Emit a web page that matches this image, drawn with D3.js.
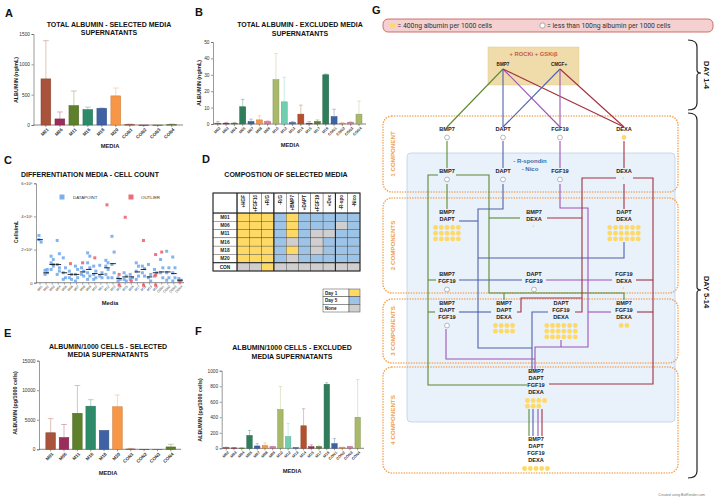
<!DOCTYPE html>
<html><head><meta charset="utf-8">
<script src="https://cdn.jsdelivr.net/npm/d3@7"></script>
<style>body{margin:0;background:#fff} svg{display:block} text{font-family:"Liberation Sans",Arial,sans-serif}</style>
</head><body><svg id="c" width="719" height="501"></svg>
<script>
// ---------------- DATA ----------------
const selCats = ["M01","M06","M11","M16","M18","M20","CON1","CON2","CON3","CON4"];
const selAlb = [760,100,320,255,275,480,5,0,0,5];
const selAlbErr = [630,115,240,40,5,130,10,0,0,10];
const selPer = [2800,2000,6100,7300,3200,7200,50,0,0,400];
const selPerErr = [2400,2200,4700,1100,0,2000,100,0,0,450];

const exclCats = ["M02","M03","M04","M05","M07","M08","M09","M10","M12","M13","M14","M15","M17","M19","CON1","CON2","CON3","CON4"];
const exclAlb = [0.5,0.5,0.5,10.5,1.5,2.5,1.5,27,13.5,1,6,0.5,1.5,30,4.5,0.5,1,6];
const exclAlbErr = [1,0.5,0.5,4.5,1.5,2.5,0.5,16,15,0.5,5.5,1,1,0.5,4.5,0.5,0.5,8];
const exclPer = [10,5,3,165,30,35,20,500,150,10,290,20,20,825,60,15,20,400];
const exclPerErr = [5,5,2,65,30,35,5,295,170,0,220,25,10,20,65,0,5,485];

const albTicks = [0,500,1000,1500];
const exclAlbTicks = [0,10,20,30,40,50];
const perTicks = [0,5000,10000,15000];
const exclPerTicks = [0,200,400,600,800,1000];

// cell counts (x10^5 cells/mL)
const cellCats = ["M01","M02","M03","M04","M05","M06","M07","M08","M09","M10","M11","M12","M13","M14","M15","M16","M17","M18","M19","M20","CON1","CON2","CON3","CON4"];
const cellMedians = [2.6,0.6,1.1,1.1,0.6,0.5,0.5,0.65,0.8,0.55,0.5,0.9,1.15,0.25,0.35,0.35,0.65,0.8,0.35,0.6,0.65,0.65,0.55,0.15];
const cellPoints = [
 [2.85,2.45,2.6],[0.75,0.8,0.5,0.6],[1.6,1.4,1.2,1.0,0.8,1.1],[2.55,1.75,1.1,0.7,0.5,0.9],
 [1.5,0.9,0.6,0.3,0.2],[0.7,0.5,0.3,0.2],[1.0,0.8,0.5,0.3,0.1],[0.9,0.7,0.5,0.4],
 [1.8,1.6,1.2,0.9,0.6,0.4,0.2],[1.0,0.7,0.5,0.3,0.2],[1.05,0.6,0.4,0.3],[1.35,1.2,1.0,0.8,0.5,0.3],
 [2.8,1.85,1.1,0.6,0.3],[0.3,0.2,0.1],[0.6,0.4,0.2,0.1],[0.5,0.3,0.2],
 [1.2,1.0,0.7,0.4,0.2],[1.0,0.85,0.6,0.4],[1.1,0.5,0.3,0.1],[0.8,0.6,0.4],
 [1.4,0.9,0.6,0.3],[1.9,0.9,0.6,0.3,0.15],[1.55,0.9,0.6,0.3,0.1],[0.25,0.15,0.1]
];
const cellOutliers = [[],[],[],[],[],[1.15],[],[1.2],[],[1.5],[],[4.7],[],[0.5,-0.15],[3.95],[0.1],[],[2.55,-0.15],[],[1.7,0.45,-0.15],[1.85],[],[],[0.05]];
const cellTicks = [0,2,4,6];

// composition table
const compCols = ["+HGF","+FGF10","+R/G","-R/G","+BMP7","+DAPT","+FGF19","+Dex","-R-spo","-Nico"];
const compRows = ["M01","M06","M11","M16","M18","M20","CON"];
const compMatrix = [
 "YYYBYBBBBB",
 "YYYBYBBBGB",
 "YYYBYBGGBB",
 "YYYBGBGBBB",
 "YYYBYBGBBB",
 "YYYBGBBBBB",
 "GGYGGGGGGG"
];
const compLegend = [["Day 1","Y"],["Day 5","B"],["None","G"]];

// ---------------- STYLE ----------------
const selColors = ["#a9533a","#9b2d5a","#5e7f2c","#2e8b6a","#3e62a3","#f79646","#a9533a","#9b2d5a","#5e7f2c","#5e7f2c"];
const exclColors = ["#a9533a","#9b2d5a","#5e7f2c","#2e7d5b","#3e62a3","#f79646","#d97a9b","#a9b96a","#6fcfb0","#4a6fb5","#b5502e","#9b2d5a","#5e7f2c","#2e7d5b","#3e62a3","#f79646","#d97a9b","#a9b96a"];
const cellFill = {Y:"#ffd966",B:"#9dc3e6",G:"#d0cece"};

const svg = d3.select("#c");
svg.append("rect").attr("width",719).attr("height",501).attr("fill","#fff");

function label(t,x,y){svg.append("text").attr("x",x).attr("y",y).attr("font-size",11).attr("font-weight","bold").attr("fill","#111").text(t);}
function title(lines,x,y,anchor){lines.forEach((l,i)=>svg.append("text").attr("x",x).attr("y",y+i*8.8).attr("text-anchor",anchor||"middle").attr("font-size",7).attr("font-weight","bold").attr("fill","#111").text(l));}
function ylab(t,x,y){svg.append("text").attr("transform",`translate(${x},${y}) rotate(-90)`).attr("text-anchor","middle").attr("font-size",5.4).attr("font-weight","bold").attr("fill","#222").text(t);}

function barChart(c){
  const g = svg.append("g");
  const x = d3.scaleBand().domain(c.cats).range(c.xRange).padding(c.pad);
  const y = d3.scaleLinear().domain([0,c.ticks[c.ticks.length-1]]).range(c.yRange);
  const ya = g.append("g").attr("transform",`translate(${c.axisX},0)`).call(d3.axisLeft(y).tickValues(c.ticks).tickSize(2).tickPadding(1.5).tickFormat(d3.format("d")));
  ya.selectAll("text").attr("font-size",4.8).attr("fill","#333").style("font-family","Liberation Sans");
  ya.selectAll("line,path").attr("stroke","#555").attr("stroke-width",0.6);
  const y0 = y(0);
  g.append("line").attr("x1",c.axisX).attr("x2",c.axisEnd).attr("y1",y0).attr("y2",y0).attr("stroke","#555").attr("stroke-width",0.7);
  c.vals.forEach((v,i)=>{
    const cx = x(c.cats[i])+x.bandwidth()/2, col=c.colors[i];
    if(c.errs[i]>0){
      g.append("line").attr("x1",cx).attr("x2",cx).attr("y1",y(v)).attr("y2",y(v+c.errs[i])).attr("stroke",col).attr("stroke-opacity",0.45).attr("stroke-width",0.8);
      g.append("line").attr("x1",cx-x.bandwidth()*0.3).attr("x2",cx+x.bandwidth()*0.3).attr("y1",y(v+c.errs[i])).attr("y2",y(v+c.errs[i])).attr("stroke",col).attr("stroke-opacity",0.45).attr("stroke-width",0.8);
    }
  });
  g.selectAll("rect.bar").data(c.vals).enter().append("rect")
    .attr("x",(d,i)=>x(c.cats[i])).attr("width",x.bandwidth())
    .attr("y",d=>y(d)).attr("height",d=>Math.max(0.4,y0-y(d)))
    .attr("fill",(d,i)=>c.colors[i]).attr("stroke",(d,i)=>d3.color(c.colors[i]).darker(0.6)).attr("stroke-width",0.5);
  const xa = g.append("g").attr("transform",`translate(0,${y0})`).call(d3.axisBottom(x).tickSize(2).tickPadding(1));
  xa.select(".domain").remove();
  xa.selectAll("line").attr("stroke","#555").attr("stroke-width",0.6);
  xa.selectAll("text").attr("font-size",c.tickFont||4.6).attr("font-weight","bold").attr("fill","#333").style("font-family","Liberation Sans")
    .attr("text-anchor","end").attr("transform","rotate(-45)").attr("dx","-0.3em").attr("dy","0.6em");
  svg.append("text").attr("x",c.mediaX).attr("y",c.mediaY).attr("text-anchor","middle").attr("font-size",5.8).attr("font-weight","bold").attr("fill","#222").text("MEDIA");
}

// ---------- A ----------
label("A",5,17);
title(["TOTAL ALBUMIN - SELECTED MEDIA","SUPERNATANTS"],109,26.5);
ylab("ALBUMIN (ng/mL)",18,80);
barChart({cats:selCats,vals:selAlb,errs:selAlbErr,colors:selColors,xRange:[36.8,180.8],pad:0.3,axisX:33.5,axisEnd:183,ticks:albTicks,yRange:[125,34],mediaX:110,mediaY:148});

// ---------- B ----------
label("B",195,16);
title(["TOTAL ALBUMIN - EXCLUDED MEDIA","SUPERNATANTS"],300,27);
ylab("ALBUMIN (ng/mL)",201,83);
barChart({cats:exclCats,vals:exclAlb,errs:exclAlbErr,colors:exclColors,xRange:[212.5,364.3],pad:0.28,axisX:213,axisEnd:366,ticks:exclAlbTicks,yRange:[124,42],mediaX:290,mediaY:147,tickFont:3.8});

// ---------- E ----------
label("E",4,337);
title(["ALBUMIN/1000 CELLS - SELECTED","MEDIA SUPERNATANTS"],108,348.5);
ylab("ALBUMIN (pg/1000 cells)",17,403);
barChart({cats:selCats,vals:selPer,errs:selPerErr,colors:selColors.map((c,i)=>i===9?"#5e7f2c":c),xRange:[42.1,179.4],pad:0.28,axisX:39,axisEnd:181,ticks:perTicks,yRange:[449.3,360.7],mediaX:108,mediaY:475});

// ---------- F ----------
label("F",195,335);
title(["ALBUMIN/1000 CELLS - EXCLUDED","MEDIA SUPERNATANTS"],292,350);
ylab("ALBUMIN (pg/1000 cells)",202,410);
barChart({cats:exclCats,vals:exclPer,errs:exclPerErr,colors:exclColors,xRange:[221.3,362.7],pad:0.3,axisX:221.7,axisEnd:364,ticks:exclPerTicks,yRange:[448.3,370.7],mediaX:292,mediaY:473,tickFont:3.8});

// ---------- C ----------
label("C",4,164);
title(["DIFFERENTIATION MEDIA - CELL COUNT"],21,176.5,"start");
{
  const g = svg.append("g");
  const x = d3.scaleBand().domain(cellCats).range([37,183]);
  const y = d3.scaleLinear().domain([0,6]).range([282.7,183.3]);
  const ya = g.append("g").attr("transform","translate(36,0)").call(d3.axisLeft(y).tickValues(cellTicks).tickSize(2).tickPadding(1.5).tickFormat(d=>d===0?"0":d+"×10⁵"));
  ya.selectAll("text").attr("font-size",4.2).attr("fill","#333").style("font-family","Liberation Sans");
  ya.selectAll("line,path").attr("stroke","#555").attr("stroke-width",0.6);
  g.append("line").attr("x1",36).attr("x2",184).attr("y1",y(0)).attr("y2",y(0)).attr("stroke","#555").attr("stroke-width",0.7);
  cellPoints.forEach((pts,i)=>{
    const cx = x(cellCats[i])+x.bandwidth()/2;
    g.selectAll(null).data(pts).enter().append("rect")
      .attr("x",(d,j)=>cx-1.5+(j%2?1.1:-1.1)).attr("y",d=>y(d)-1.5).attr("width",3).attr("height",3)
      .attr("fill","#5b9be8").attr("fill-opacity",0.75);
    g.selectAll(null).data(cellOutliers[i]).enter().append("rect")
      .attr("x",cx-1.5).attr("y",d=>y(d)-1.5).attr("width",3).attr("height",3)
      .attr("fill","#f0505a").attr("fill-opacity",0.8);
    g.append("line").attr("x1",cx-2.8).attr("x2",cx+2.8).attr("y1",y(cellMedians[i])).attr("y2",y(cellMedians[i])).attr("stroke","#111").attr("stroke-width",0.9);
  });
  const xa = g.append("g").attr("transform",`translate(0,${y(0)})`).call(d3.axisBottom(x).tickSize(2).tickPadding(1));
  xa.select(".domain").remove();
  xa.selectAll("line").attr("stroke","#555").attr("stroke-width",0.5);
  xa.selectAll("text").attr("font-size",3.2).attr("fill","#333").style("font-family","Liberation Sans")
    .attr("text-anchor","end").attr("transform","rotate(-45)").attr("dx","-0.3em").attr("dy","0.6em");
  g.append("rect").attr("x",59.5).attr("y",194.5).attr("width",5).attr("height",5).attr("fill","#5b9be8").attr("fill-opacity",0.8);
  g.append("text").attr("x",73).attr("y",199).attr("font-size",4.4).attr("fill","#333").text("DATAPOINT");
  g.append("rect").attr("x",128.5).attr("y",194.5).attr("width",5).attr("height",5).attr("fill","#f0505a").attr("fill-opacity",0.85);
  g.append("text").attr("x",141).attr("y",199).attr("font-size",4.4).attr("fill","#333").text("OUTLIER");
  ylab("Cells/mL",17.5,232);
  svg.append("text").attr("x",110).attr("y",305).attr("text-anchor","middle").attr("font-size",5.8).attr("font-weight","bold").attr("fill","#222").text("Media");
}

// ---------- D ----------
label("D",202,163);
title(["COMPOSTION OF SELECTED MEDIA"],286,176.5);
{
  const g = svg.append("g");
  const x0=213, lw=24, top=193, hh=20;
  const x = d3.scaleBand().domain(compCols).range([x0+lw,360]);
  const y = d3.scaleBand().domain(compRows).range([top+hh,271]);
  g.append("rect").attr("x",x0).attr("y",top).attr("width",360-x0).attr("height",271-top).attr("fill","#fff");
  compMatrix.forEach((row,ri)=>{
    row.split("").forEach((k,ci)=>{
      g.append("rect").attr("x",x(compCols[ci])).attr("y",y(compRows[ri])).attr("width",x.bandwidth()).attr("height",y.bandwidth())
        .attr("fill",cellFill[k]).attr("stroke","#444").attr("stroke-width",0.4);
    });
    g.append("rect").attr("x",x0).attr("y",y(compRows[ri])).attr("width",lw).attr("height",y.bandwidth()).attr("fill","#fff").attr("stroke","#444").attr("stroke-width",0.4);
    g.append("text").attr("x",x0+lw/2).attr("y",y(compRows[ri])+y.bandwidth()/2+1.7).attr("text-anchor","middle").attr("font-size",4.8).attr("font-weight","bold").attr("fill","#222").text(compRows[ri]);
  });
  compCols.forEach(cn=>{
    g.append("rect").attr("x",x(cn)).attr("y",top).attr("width",x.bandwidth()).attr("height",hh).attr("fill","#fff").attr("stroke","#444").attr("stroke-width",0.4);
    g.append("text").attr("transform",`translate(${x(cn)+x.bandwidth()/2+1.7},${top+2}) rotate(-90)`).attr("text-anchor","end").attr("font-size",4.6).attr("font-weight","bold").attr("fill","#222").text(cn);
  });
  g.append("rect").attr("x",x0).attr("y",top).attr("width",lw).attr("height",hh).attr("fill","#fff").attr("stroke","#444").attr("stroke-width",0.4);
  const thick=(x1,y1,x2,y2)=>g.append("line").attr("x1",x1).attr("y1",y1).attr("x2",x2).attr("y2",y2).attr("stroke","#222").attr("stroke-width",1.1);
  thick(x("-R/G"),top,x("-R/G"),271);
  thick(x("-R-spo"),top,x("-R-spo"),271);
  thick(x0+lw,top,x0+lw,271);
  thick(x0,y("CON"),360,y("CON"));
  thick(x0,top+hh,360,top+hh);
  g.append("rect").attr("x",x0).attr("y",top).attr("width",360-x0).attr("height",271-top).attr("fill","none").attr("stroke","#222").attr("stroke-width",1);
  const ly = d3.scaleBand().domain(compLegend.map(d=>d[0])).range([289,312]);
  compLegend.forEach(([t,k])=>{
    g.append("rect").attr("x",323).attr("y",ly(t)).attr("width",26).attr("height",ly.bandwidth()).attr("fill","#fff").attr("stroke","#444").attr("stroke-width",0.5);
    g.append("rect").attr("x",349).attr("y",ly(t)).attr("width",11).attr("height",ly.bandwidth()).attr("fill",cellFill[k]).attr("stroke","#444").attr("stroke-width",0.5);
    g.append("text").attr("x",325).attr("y",ly(t)+ly.bandwidth()/2+1.7).attr("font-size",4.6).attr("font-weight","bold").attr("fill","#222").text(t);
  });
}

// ---------- G (diagram) ----------
const gNodes = [
 {t:["BMP7"],x:503,y:66,m:null,s:4.6},{t:["CMGF+"],x:559,y:66,m:null,s:4.6},
 {t:["BMP7"],x:447,y:131,m:"o"},{t:["DAPT"],x:503,y:131,m:"o"},{t:["FGF19"],x:560,y:131,m:"o"},{t:["DEXA"],x:624,y:131,m:"y"},
 {t:["BMP7"],x:447,y:173,m:"o"},{t:["DAPT"],x:503,y:173,m:"o"},{t:["FGF19"],x:560,y:173,m:"o"},{t:["DEXA"],x:624,y:173,m:"p"},
 {t:["BMP7","DAPT"],x:447,y:214,m:15,c:5},{t:["BMP7","DEXA"],x:534,y:214,m:"p"},{t:["DAPT","DEXA"],x:624,y:214,m:18,c:6},
 {t:["BMP7","FGF19"],x:447,y:276,m:"o"},{t:["DAPT","FGF19"],x:534,y:276,m:"o"},{t:["FGF19","DEXA"],x:624,y:276,m:"p"},
 {t:["BMP7","DAPT","FGF19"],x:447,y:305,m:"o"},{t:["BMP7","DAPT","DEXA"],x:504,y:305,m:8,c:4},{t:["DAPT","FGF19","DEXA"],x:561,y:305,m:18,c:6},{t:["BMP7","FGF19","DEXA"],x:624,y:305,m:2,c:2},
 {t:["BMP7","DAPT","FGF19","DEXA"],x:536,y:373,m:7,c:4},{t:["BMP7","DAPT","FGF19","DEXA"],x:536,y:441,m:5,c:5}
];
const LG="#5b8a32", LB="#4f62aa", LP="#9b55b5", LR="#a33040";
const gLinks = [
 [LG,[[503,69],[447,127]]],[LB,[[503,69],[503,127]]],[LP,[[503,69],[560,127]]],[LR,[[503,69],[624,127]]],
 [LB,[[560,69],[503,127]]],[LP,[[560,69],[560,127]]],[LR,[[560,69],[624,127]]],
 [LG,[[447,141],[447,168]]],[LB,[[503,141],[503,168]]],[LP,[[560,141],[560,168]]],[LR,[[624,141],[624,168]]],
 [LG,[[447,184],[447,209]]],
 [LG,[[438,175],[428,175],[428,385],[527,385]]],
 [LG,[[456,175],[489,175],[489,293],[624,293],[624,300]]],
 [LG,[[489,218],[520,218]]],[LG,[[504,293],[504,300]]],[LG,[[428,280],[436,280]]],[LG,[[428,312],[435,312]]],
 [LB,[[503,184],[503,209],[478,209],[478,348],[532,348]]],
 [LB,[[459,221],[478,221]]],[LB,[[624,242],[624,258],[478,258]]],[LB,[[459,280],[522,280]]],
 [LB,[[459,312],[491,312]]],[LB,[[548,312],[532,312],[532,370]]],
 [LP,[[560,184],[560,208],[588,208],[588,347],[535,347],[535,370]]],
 [LP,[[546,280],[612,280]]],[LP,[[446,329],[446,359],[535,359]]],[LP,[[611,312],[588,312]]],[LP,[[561,340],[561,347]]],
 [LR,[[616,178],[582,178],[582,312],[575,312]]],
 [LR,[[582,298],[521,298],[521,312],[517,312]]],
 [LR,[[547,218],[582,218]]],
 [LR,[[633,178],[653,178],[653,384],[549,384]]],
 [LR,[[636,280],[653,280]]],[LR,[[637,312],[653,312]]],[LR,[[624,184],[624,209]]],
 [LG,[[529,409],[529,436]]],[LB,[[533,409],[533,436]]],[LP,[[538,409],[538,436]]],[LR,[[542,409],[542,436]]]
];
{
  const g = svg.append("g");
  label("G",372,14);
  g.append("rect").attr("x",383).attr("y",19).attr("width",330).attr("height",13).attr("rx",5).attr("fill","#f5d0d0").attr("stroke","#c0504d").attr("stroke-width",0.8);
  g.append("circle").attr("cx",392.5).attr("cy",25.5).attr("r",2.6).attr("fill","#ffd966");
  g.append("text").attr("x",397.5).attr("y",28).attr("font-size",6.8).attr("fill","#333").style("font-family","Roboto").text("= 400ng albumin per 1000 cells");
  g.append("circle").attr("cx",542.5).attr("cy",25.5).attr("r",2.6).attr("fill","#fff").attr("stroke","#666").attr("stroke-width",0.5);
  g.append("text").attr("x",547).attr("y",28).attr("font-size",6.8).attr("fill","#333").style("font-family","Roboto").text("= less than 100ng albumin per 1000 cells");
  g.append("rect").attr("x",488).attr("y",47).attr("width",91).attr("height",38).attr("fill","#efdcaa").attr("stroke","#e2c98a").attr("stroke-width",0.5);
  g.append("text").attr("x",533.5).attr("y",55.5).attr("text-anchor","middle").attr("font-size",5.8).attr("font-weight","bold").attr("fill","#c55a4a").text("+ ROCKi + GSKiβ");
  g.append("rect").attr("x",407).attr("y",153).attr("width",268).attr("height",269).attr("rx",4).attr("fill","#e9f1fb").attr("stroke","#bcd0ea").attr("stroke-width",0.8);
  g.append("text").attr("x",530).attr("y",162.5).attr("text-anchor","middle").attr("font-size",6).attr("font-weight","bold").attr("fill","#3a6ea5").text("- R-spondin");
  g.append("text").attr("x",530).attr("y",170.5).attr("text-anchor","middle").attr("font-size",6).attr("font-weight","bold").attr("fill","#3a6ea5").text("- Nico");
  const boxes=[[116,192,"1 COMPONENT"],[198,293,"2 COMPONENTS"],[299,363,"3 COMPONENTS"],[367,473,"4 COMPONENTS"]];
  boxes.forEach(([a,b,t])=>{
    g.append("rect").attr("x",383).attr("y",a).attr("width",295).attr("height",b-a).attr("rx",9).attr("fill","none")
      .attr("stroke","#f2a55a").attr("stroke-width",1.6).attr("stroke-dasharray","0.1 2.5").attr("stroke-linecap","round");
    g.append("text").attr("transform",`translate(${395},${(a+b)/2}) rotate(-90)`).attr("text-anchor","middle").attr("font-size",6.2).attr("font-weight","bold").attr("fill","#f0a050").text(t);
  });
  const line = d3.line();
  gLinks.forEach(([col,pts])=>g.append("path").attr("d",line(pts)).attr("fill","none").attr("stroke",col).attr("stroke-width",1.1));
  gNodes.forEach(n=>{
    const lh=7;
    n.t.forEach((s,i)=>g.append("text").attr("x",n.x).attr("y",n.y+i*lh).attr("text-anchor","middle").attr("font-size",n.s||5.6).attr("font-weight","bold").attr("fill","#222").text(s));
    const by = n.y+(n.t.length-1)*lh+5;
    if(n.m==="o") g.append("circle").attr("cx",n.x).attr("cy",by+1.5).attr("r",2.4).attr("fill","#fff").attr("stroke","#777").attr("stroke-width",0.5);
    else if(n.m==="y") g.append("circle").attr("cx",n.x).attr("cy",by+1.5).attr("r",2.4).attr("fill","#ffd966");
    else if(n.m==="p") g.append("path").attr("transform",`translate(${n.x},${by+1.5})`).attr("d",d3.arc()({innerRadius:0,outerRadius:2.4,startAngle:-0.9,endAngle:0})).attr("fill","#ffd966");
    else if(typeof n.m==="number"){
      const sp=5.7, cols=n.c;
      for(let k=0;k<n.m;k++){
        const r=Math.floor(k/cols), cc=k%cols;
        g.append("circle").attr("cx",n.x-(cols-1)*sp/2+cc*sp).attr("cy",by+1.5+r*5.7).attr("r",2.4).attr("fill","#ffd966");
      }
    }
  });
  g.append("path").attr("d","M688,40 Q697,40 697,47 L697,70 Q697,73 701,73 Q697,73 697,76 L697,103 Q697,110 688,110").attr("fill","none").attr("stroke","#222").attr("stroke-width",1.2);
  g.append("path").attr("d","M688,113 Q697,113 697,120 L697,287 Q697,290 701,290 Q697,290 697,293 L697,471 Q697,478 688,478").attr("fill","none").attr("stroke","#222").attr("stroke-width",1.2);
  g.append("text").attr("transform","translate(704,75) rotate(90)").attr("text-anchor","middle").attr("font-size",7.5).attr("font-weight","bold").attr("fill","#222").text("DAY 1-4");
  g.append("text").attr("transform","translate(704,292) rotate(90)").attr("text-anchor","middle").attr("font-size",7.5).attr("font-weight","bold").attr("fill","#222").text("DAY 5-14");
  g.append("text").attr("x",705).attr("y",496).attr("text-anchor","end").attr("font-size",3.5).attr("fill","#777").text("Created using BioRender.com");
}
</script></body></html>
